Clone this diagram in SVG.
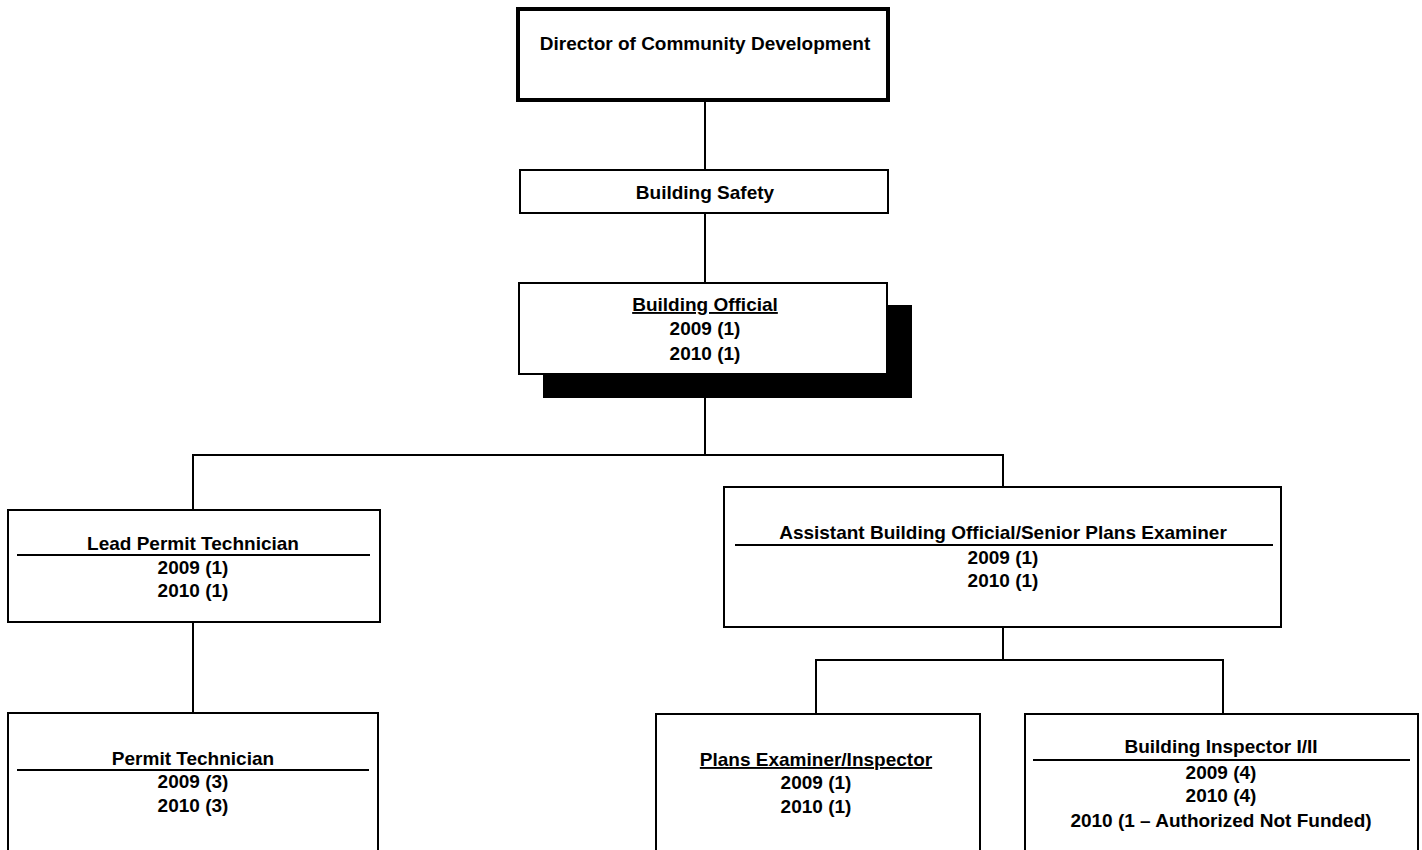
<svg xmlns="http://www.w3.org/2000/svg" width="1422" height="850" viewBox="0 0 1422 850">
  <style>
    .box { fill: #fff; stroke: #000; stroke-width: 2; }
    .thick { stroke-width: 4; }
    .shadow { fill: #000; }
    .wire { fill: none; stroke: #000; stroke-width: 2; }
    .rule { stroke: #000; stroke-width: 2; }
    text { font-family: "Liberation Sans", Arial, sans-serif; font-size: 19px; font-weight: bold; fill: #000; text-anchor: middle; }
    .u { text-decoration: underline; }
  </style>
  <rect width="1422" height="850" fill="#fff"/>

  <g id="connectors">
    <line class="wire" x1="705" y1="101" x2="705" y2="170"/>
    <line class="wire" x1="705" y1="213" x2="705" y2="283"/>
    <polyline class="wire" points="705,398 705,455"/>
    <polyline class="wire" points="193,510 193,455 1003,455 1003,487"/>
    <line class="wire" x1="193" y1="622" x2="193" y2="713"/>
    <line class="wire" x1="1003" y1="627" x2="1003" y2="660"/>
    <polyline class="wire" points="816,714 816,660 1223,660 1223,714"/>
  </g>

  <g id="director">
    <rect class="box thick" x="518" y="9" width="370" height="91"/>
    <text x="705" y="50">Director of Community Development</text>
  </g>

  <g id="building-safety">
    <rect class="box" x="520" y="170" width="368" height="43"/>
    <text x="705" y="199">Building Safety</text>
  </g>

  <g id="building-official">
    <rect class="shadow" x="543" y="305" width="369" height="93"/>
    <rect class="box" x="519" y="283" width="368" height="91"/>
    <text class="u" x="705" y="311">Building Official</text>
    <text x="705" y="335">2009 (1)</text>
    <text x="705" y="360">2010 (1)</text>
  </g>

  <g id="lead-permit-technician">
    <rect class="box" x="8" y="510" width="372" height="112"/>
    <text x="193" y="550">Lead Permit Technician</text>
    <line class="rule" x1="17" y1="555" x2="370" y2="555"/>
    <text x="193" y="574">2009 (1)</text>
    <text x="193" y="597">2010 (1)</text>
  </g>

  <g id="permit-technician">
    <rect class="box" x="8" y="713" width="370" height="145"/>
    <text x="193" y="765">Permit Technician</text>
    <line class="rule" x1="17" y1="770" x2="369" y2="770"/>
    <text x="193" y="788">2009 (3)</text>
    <text x="193" y="812">2010 (3)</text>
  </g>

  <g id="assistant-building-official">
    <rect class="box" x="724" y="487" width="557" height="140"/>
    <text x="1003" y="539">Assistant Building Official/Senior Plans Examiner</text>
    <line class="rule" x1="735" y1="545" x2="1273" y2="545"/>
    <text x="1003" y="564">2009 (1)</text>
    <text x="1003" y="587">2010 (1)</text>
  </g>

  <g id="plans-examiner">
    <rect class="box" x="656" y="714" width="324" height="144"/>
    <text class="u" x="816" y="766">Plans Examiner/Inspector</text>
    <text x="816" y="789">2009 (1)</text>
    <text x="816" y="813">2010 (1)</text>
  </g>

  <g id="building-inspector">
    <rect class="box" x="1025" y="714" width="393" height="144"/>
    <text x="1221" y="753">Building Inspector I/II</text>
    <line class="rule" x1="1033" y1="760" x2="1410" y2="760"/>
    <text x="1221" y="779">2009 (4)</text>
    <text x="1221" y="802">2010 (4)</text>
    <text x="1221" y="827">2010 (1 – Authorized Not Funded)</text>
  </g>
</svg>
